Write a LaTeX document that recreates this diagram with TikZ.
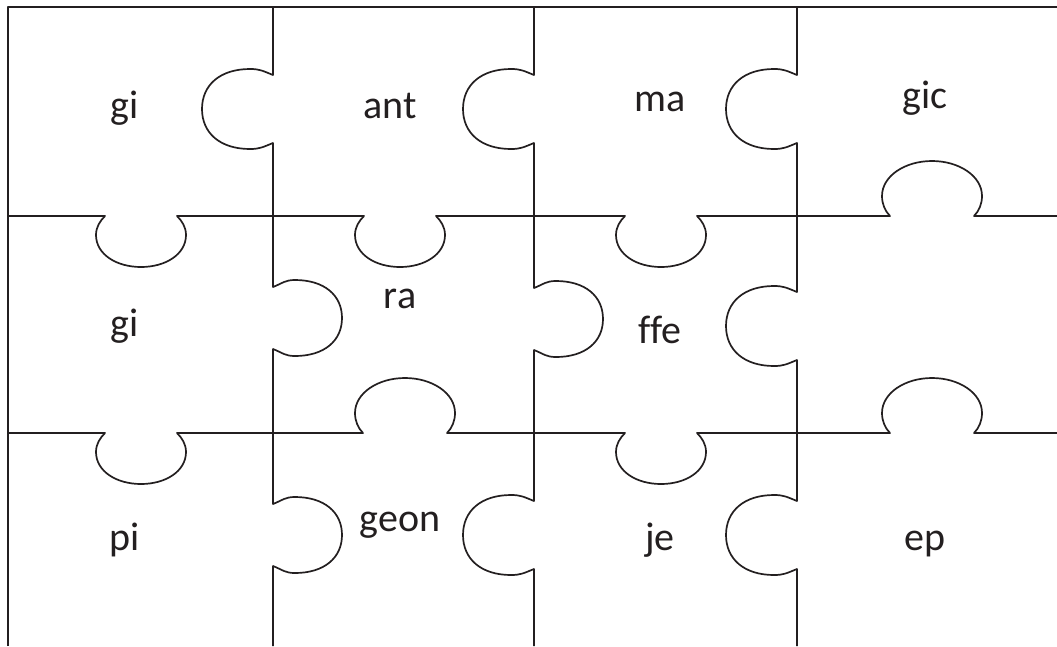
\documentclass[tikz,border=0pt]{standalone}
\usepackage{fontspec}
\setmainfont{Carlito}[Ligatures=NoCommon]
\definecolor{ink}{HTML}{231F20}
\tikzset{
  cut/.style={draw=ink, line width=1.7pt, line join=round},
  syl/.style={font=\fontsize{40}{48}\selectfont, text=ink, anchor=base, inner sep=0pt},
  knobL/.style={to path={.. controls +(-10,-4) and +(10,0) .. ++(-23,-6)
    .. controls +(-30,0) and +(0,-24) .. ++(-48,40)
    .. controls +(0,24) and +(-30,0) .. ++(48,40)
    .. controls +(10,0) and +(-10,4) .. (\tikztotarget)}},
  knobR/.style={to path={.. controls +(10,-4) and +(-10,0) .. ++(22,-7)
    .. controls +(29,0) and +(0,-23) .. ++(47,38)
    .. controls +(0,23) and +(29,0) .. ++(-47,38)
    .. controls +(-10,0) and +(10,4) .. (\tikztotarget)}},
  knobD/.style={to path={.. controls +(-5,5) and +(0,-8) .. ++(-9,19)
    .. controls +(0,19) and +(-25,0) .. ++(45,32)
    .. controls +(25,0) and +(0,19) .. ++(45,-32)
    .. controls +(0,-8) and +(5,5) .. (\tikztotarget)}},
  knobU/.style={to path={.. controls +(-5,-5) and +(0,8) .. ++(-8,-20)
    .. controls +(0,-20) and +(-27,0) .. ++(50,-35)
    .. controls +(27,0) and +(0,-20) .. ++(50,35)
    .. controls +(0,8) and +(5,-5) .. (\tikztotarget)}}
}
\begin{document}
\begin{tikzpicture}[x=1pt,y=-1pt]
  \useasboundingbox (0,0) rectangle (1057,646);

  % frame and vertical cuts
  \draw[cut] (8,646) -- (8,7) -- (1057,7);
  \draw[cut] (273,7) -- (273,75) to[knobL] (273,143) -- (273,287) to[knobR] (273,349)
    -- (273,504) to[knobR] (273,566) -- (273,646);
  \draw[cut] (534,7) -- (534,75) to[knobL] (534,143) -- (534,288) to[knobR] (534,350)
    -- (534,501) to[knobL] (534,569) -- (534,646);
  \draw[cut] (797,7) -- (797,75) to[knobL] (797,143) -- (797,292) to[knobL] (797,360)
    -- (797,501) to[knobL] (797,569) -- (797,646);

  % horizontal cuts
  \draw[cut] (8,216) -- (105,216) to[knobD] (177,216) -- (364,216) to[knobD] (436,216)
    -- (625,216) to[knobD] (697,216) -- (890,216) to[knobU] (974,216) -- (1057,216);
  \draw[cut] (8,433) -- (105,433) to[knobD] (177,433) -- (363,433) to[knobU] (447,433)
    -- (625,433) to[knobD] (697,433) -- (890,433) to[knobU] (974,433) -- (1057,433);

  \node[syl] (gitop) at (125,118) {gi};
  \node[syl] (ant) at (390,118) {ant};
  \node[syl] (ma) at (660,111) {ma};
  \node[syl] (gic) at (925,108) {gic};
  \node[syl] (gimid) at (125,336) {gi};
  \node[syl] (ra) at (400,308) {ra};
  \node[syl] (ffe) at (660,343) {ffe};
  \node[syl] (pi) at (125,550) {pi};
  \node[syl] (geon) at (400,531) {geon};
  \node[syl] (je) at (660,550) {je};
  \node[syl] (ep) at (925,550) {ep};
\end{tikzpicture}
\end{document}
